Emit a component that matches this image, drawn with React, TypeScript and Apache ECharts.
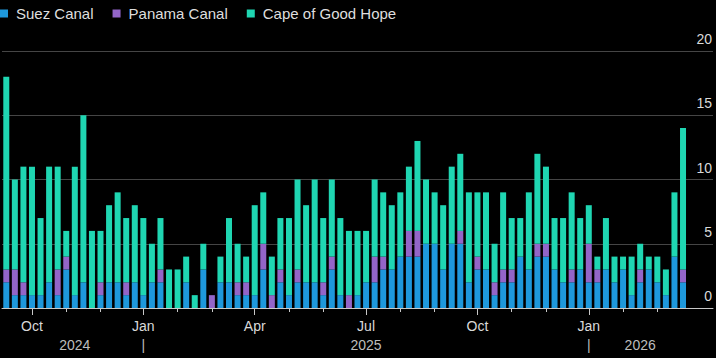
import React, { useEffect, useRef } from "react";
import * as echarts from "echarts";

// Weekly counts of ships by route
const suez = [2, 1, 1, 1, 1, 2, 1, 3, 1, 2, 0, 1, 2, 2, 1, 2, 1, 2, 2, 0, 0, 2, 0, 3, 0, 2, 2, 1, 1, 1, 3, 0, 2, 1, 2, 2, 2, 1, 3, 1, 0, 1, 2, 2, 3, 3, 4, 4, 4, 5, 5, 3, 5, 5, 2, 3, 3, 1, 2, 2, 4, 3, 4, 4, 3, 2, 2, 3, 2, 2, 3, 2, 3, 1, 2, 3, 2, 1, 4, 2];
const panama = [1, 2, 1, 0, 0, 0, 2, 1, 0, 0, 0, 1, 0, 0, 1, 0, 0, 0, 1, 0, 0, 0, 0, 0, 1, 0, 0, 1, 1, 0, 2, 1, 1, 0, 1, 0, 0, 1, 1, 0, 1, 0, 0, 2, 1, 0, 0, 2, 2, 0, 0, 0, 0, 1, 0, 1, 0, 1, 1, 1, 0, 0, 1, 1, 0, 0, 1, 0, 3, 1, 0, 0, 0, 0, 1, 0, 0, 0, 0, 1];
const cape = [15, 7, 9, 10, 6, 9, 8, 2, 10, 13, 6, 4, 6, 7, 5, 6, 6, 3, 4, 3, 3, 2, 1, 2, 0, 2, 5, 3, 2, 7, 4, 3, 4, 6, 7, 6, 8, 5, 6, 6, 5, 5, 4, 6, 5, 5, 5, 5, 7, 5, 4, 5, 6, 6, 7, 5, 6, 3, 6, 4, 3, 6, 7, 6, 4, 5, 6, 4, 3, 1, 4, 2, 1, 3, 2, 1, 2, 2, 5, 11];

// Weekly categories (80 weeks of data plus 3 empty weeks at the right)
const weekCount = 83;
const startWeek = Date.UTC(2024, 8, 13);
const weeks = Array.from({ length: weekCount }, (_, i) =>
  new Date(startWeek + i * 7 * 86400000).toISOString().slice(0, 10)
);

// Axis ticks / labels (category indices)
const monthTicks = [3, 7, 11, 16, 20, 24, 29, 33, 37, 42, 46, 50, 55, 59, 63, 68, 72, 76];
const quarterLabels: Record<number, string> = { 3: "Oct", 16: "Jan", 29: "Apr", 42: "Jul", 55: "Oct", 68: "Jan" };
const yearLabels: Record<number, string> = { 8: "2024", 16: "|", 42: "2025", 68: "|", 74: "2026" };
const yTicks = { min: 0, max: 20, interval: 5 };

const seriesNames = ["Suez Canal", "Panama Canal", "Cape of Good Hope"];
const colors = ["#1e98dc", "#9365c8", "#1fd6b2"];

export default function App() {
  const ref = useRef<HTMLDivElement>(null);
  useEffect(() => {
    document.body.style.margin = "0";
    document.body.style.background = "#000";
    const chart = echarts.init(ref.current!, null, { renderer: "svg" });
    const tickSet = new Set(monthTicks);
    const font = "Liberation Sans";
    const option: any = {
      animation: false,
      backgroundColor: "#000",
      textStyle: { fontFamily: font },
      color: colors,
      legend: {
        left: 0,
        top: 6,
        padding: 0,
        icon: "rect",
        itemWidth: 8,
        itemHeight: 8,
        itemGap: 19,
        textStyle: { color: "#dedede", fontSize: 15, fontFamily: font, padding: [0, 0, 0, 3] },
        data: seriesNames,
      },
      grid: { left: 2, right: 3, top: 51, bottom: 50, containLabel: false },
      xAxis: [
        {
          type: "category",
          data: weeks,
          boundaryGap: true,
          axisLine: { show: true, lineStyle: { color: "#c8c8c8", width: 1 } },
          axisTick: {
            show: true,
            alignWithLabel: true,
            interval: (i: number) => tickSet.has(i),
            length: 4,
            lineStyle: { color: "#c8c8c8" },
          },
          axisLabel: { show: false },
          splitLine: { show: false },
        },
        {
          type: "category",
          data: weeks,
          position: "bottom",
          boundaryGap: true,
          axisLine: { show: false },
          axisTick: {
            show: true,
            alignWithLabel: true,
            interval: (i: number) => quarterLabels[i] !== undefined,
            length: 7,
            lineStyle: { color: "#c8c8c8" },
          },
          axisLabel: {
            show: true,
            interval: (i: number) => quarterLabels[i] !== undefined,
            formatter: (_v: string, i: number) => quarterLabels[i] ?? "",
            color: "#d9d9d9",
            fontSize: 14,
            margin: 11,
          },
          splitLine: { show: false },
        },
        {
          type: "category",
          data: weeks,
          position: "bottom",
          boundaryGap: true,
          axisLine: { show: false },
          axisTick: { show: false },
          axisLabel: {
            show: true,
            interval: (i: number) => yearLabels[i] !== undefined,
            formatter: (_v: string, i: number) => yearLabels[i] ?? "",
            color: "#bdbdbd",
            fontSize: 14,
            margin: 30,
          },
          splitLine: { show: false },
        },
      ],
      yAxis: {
        type: "value",
        position: "right",
        min: yTicks.min,
        max: yTicks.max,
        interval: yTicks.interval,
        axisLine: { show: false },
        axisTick: { show: false },
        axisLabel: {
          inside: true,
          verticalAlign: "bottom",
          lineHeight: 24,
          margin: 1,
          color: "#d9d9d9",
          fontSize: 14,
        },
        splitLine: { show: true, lineStyle: { color: "#454545", width: 1 } },
      },
      series: [suez, panama, cape].map((d, k) => ({
        name: seriesNames[k],
        type: "bar",
        stack: "total",
        xAxisIndex: 0,
        barWidth: 6,
        data: d,
        itemStyle: { color: colors[k] },
      })),
    };
    chart.setOption(option);
    return () => chart.dispose();
  }, []);
  return <div ref={ref} style={{ width: 716, height: 358, background: "#000" }} />;
}
